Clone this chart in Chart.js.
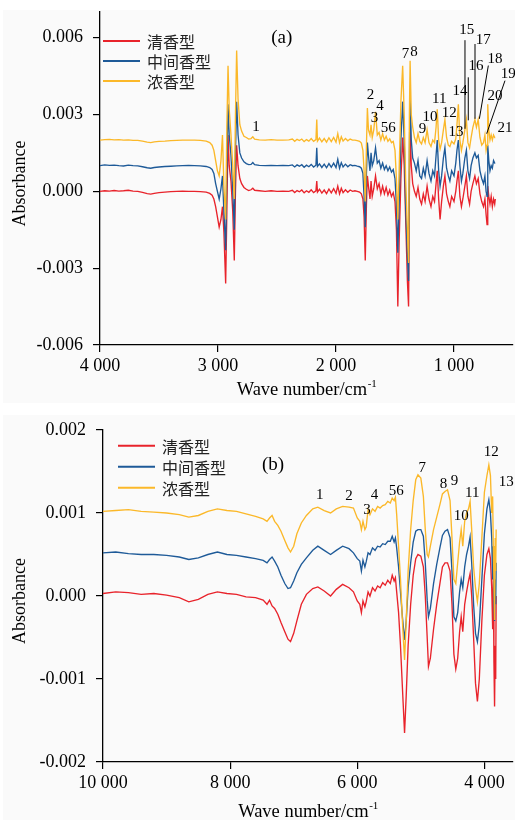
<!DOCTYPE html>
<html>
<head>
<meta charset="utf-8">
<script src="https://cdn.jsdelivr.net/npm/chart.js@4.4.0/dist/chart.umd.min.js"></script>
<style>
  html,body{margin:0;padding:0;background:#fff;}
  #wrap{position:relative;width:515px;height:820px;overflow:hidden;}
  canvas{position:absolute;left:0;}
  #cA{top:0;}
  #cB{top:403px;}
</style>
</head>
<body>
<div id="wrap">
<canvas id="cA" width="515" height="403"></canvas>
<canvas id="cB" width="515" height="417"></canvas>
</div>
<script>
// ---------------- Panel (a): mid-infrared ----------------
const seriesNames = ["清香型", "中间香型", "浓香型"];
const wnA = [4000,3960,3920,3880,3840,3800,3760,3720,3680,3640,
3600,3570,3540,3500,3450,3400,3350,3300,3250,3200,
3150,3100,3070,3050,3035,3020,3005,2990,2975,2962,
2950,2935,2925,2915,2905,2890,2875,2862,2852,2842,
2830,2815,2800,2780,2760,2740,2720,2705,2690,2650,
2600,2550,2500,2450,2400,2370,2350,2330,2310,2290,
2270,2250,2230,2210,2190,2170,2163,2157,2140,2120,
2100,2080,2060,2040,2020,2000,1985,1970,1955,1940,
1920,1900,1880,1860,1840,1820,1800,1785,1772,1762,
1752,1742,1734,1725,1712,1703,1693,1680,1665,1650,
1635,1620,1605,1590,1575,1560,1545,1530,1515,1500,
1488,1476,1465,1450,1435,1422,1410,1395,1385,1378,
1372,1362,1350,1335,1320,1305,1290,1275,1260,1245,
1228,1212,1195,1180,1165,1152,1142,1130,1118,1105,
1090,1077,1063,1048,1035,1020,1000,985,975,963,
950,937,925,908,895,882,868,855,840,823,
810,795,780,765,750,738,728,720,714,705,
695,685,675,665,655,650];
const redA = [0,0.00002,0.00001,0.00003,0.00001,0.00002,0.00004,0.00001,0,-0.00004,
-0.00009,-0.00011,-0.00008,-0.00005,-0.00003,-0.00001,0,0.00001,0,0,
-0.00001,-0.00003,-0.00008,-0.00015,-0.0003,-0.0006,-0.001,-0.0014,-0.0011,-0.0006,
-0.0016,-0.0036,-0.0008,0.0022,0.001,0.0004,-0.0008,-0.0027,0,0.0018,
0.001,0.0005,0.0003,0.00015,0.00008,0.00003,0.00006,0.00012,0.00004,0.00002,
0,0.00002,0,0.00001,0,0.00004,-0.00005,0.00003,-0.00002,0.00005,
-0.00006,0.00002,-0.00004,0.00006,-0.00005,0.00002,0.0004,-0.00003,0.00008,-0.00007,
0.00005,-0.00009,0.00009,-0.00006,0.0001,-0.00008,0.0002,-0.0001,0.00012,-0.00005,
0.00006,-0.00004,0.00005,0,0.00002,0,-0.00003,-0.0001,-0.0003,-0.001,
-0.0027,-0.0005,0.0006,0.0002,-0.0003,0.0004,-0.0002,0.0001,0.0006,0.0001,
0.0003,-0.0001,0.0002,-0.0001,0.00015,-0.00015,0.00005,-0.0002,-0.00005,-0.0004,
-0.0015,-0.0045,-0.002,0.0005,0.0021,0.001,-0.001,-0.0035,-0.0045,0,
0.0024,0.001,0.0003,0,-0.0002,0.00015,-0.0003,-0.0005,-0.0001,-0.0004,
0.0002,-0.0003,-0.0006,-0.0002,-0.0004,0.0003,0.0008,-0.0003,-0.0011,-0.0004,
0.0002,0.0006,-0.0001,-0.0004,-0.0006,-0.0002,-0.0004,0,0.0004,0.0008,
-0.0002,-0.0006,-0.0003,0.0002,0.0006,-0.0002,-0.0005,0,0.0003,0.0006,
0.0003,0.0005,-0.0001,-0.0004,-0.0006,-0.0003,-0.0009,-0.0013,0.0002,-0.0002,
-0.0005,-0.0002,-0.0006,-0.0003,-0.0005,-0.0003];
const blueA = [0.001,0.00103,0.00101,0.00102,0.001,0.00099,0.00102,0.001,0.00099,0.00096,
0.00092,0.0009,0.00093,0.00095,0.00097,0.00098,0.00099,0.001,0.00101,0.001,
0.00099,0.00097,0.00093,0.00085,0.0007,0.0003,0,-0.0003,0.0001,0.0006,
-0.0008,-0.0023,0.0008,0.0034,0.0022,0.0014,0,-0.0015,0.0015,0.0035,
0.0022,0.0015,0.0013,0.00115,0.00108,0.00104,0.00105,0.00112,0.00104,0.00101,
0.001,0.00101,0.001,0.00101,0.001,0.00103,0.00095,0.00103,0.00098,0.00104,
0.00094,0.00102,0.00096,0.00105,0.00095,0.00102,0.0017,0.00097,0.00107,0.00093,
0.00106,0.00092,0.00108,0.00094,0.0011,0.00093,0.00125,0.0009,0.00112,0.00095,
0.00106,0.00096,0.00104,0.001,0.00101,0.00098,0.00096,0.0009,0.0007,-0.0002,
-0.0014,0.0007,0.0019,0.0014,0.0008,0.0015,0.001,0.0012,0.0017,0.0011,
0.0012,0.0009,0.0011,0.00085,0.001,0.0008,0.00095,0.00075,0.00085,0.0005,
-0.0005,-0.0024,-0.0005,0.002,0.0035,0.002,-0.0005,-0.0025,-0.0035,0.0015,
0.0038,0.002,0.0013,0.0011,0.0008,0.0012,0.0006,0.0005,0.0009,0.0006,
0.0012,0.0007,0.0004,0.0008,0.0006,0.0014,0.002,0.0008,0.0002,0.0006,
0.0013,0.0017,0.0009,0.0006,0.0004,0.0008,0.0006,0.0011,0.0016,0.002,
0.001,0.0004,0.0007,0.0013,0.0016,0.0008,0.0005,0.001,0.0013,0.0015,
0.0013,0.0014,0.0008,0.0005,0.0003,0.0006,0,-0.0002,0.0018,0.0012,
0.0008,0.001,0.0009,0.0012,0.0011,0.0011];
const yellowA = [0.002,0.00202,0.00203,0.00201,0.00202,0.002,0.00201,0.00199,0.00199,0.00196,
0.00192,0.0019,0.00193,0.00195,0.00196,0.00198,0.00199,0.002,0.002,0.002,
0.00199,0.00196,0.0019,0.0018,0.0016,0.0012,0.0008,0.0006,0.0012,0.0022,
0.0002,-0.0011,0.0025,0.0049,0.0032,0.0022,0.001,-0.0003,0.003,0.0055,
0.0036,0.0026,0.00235,0.00215,0.0021,0.00204,0.00206,0.00213,0.00204,0.00201,
0.002,0.00202,0.002,0.002,0.00201,0.00204,0.00195,0.00203,0.00198,0.00204,
0.00194,0.00202,0.00196,0.00206,0.00195,0.00202,0.0028,0.00196,0.00208,0.00193,
0.00206,0.00192,0.00209,0.00194,0.0021,0.00192,0.00225,0.0019,0.00213,0.00196,
0.00206,0.00197,0.00204,0.002,0.002,0.00198,0.00195,0.00188,0.0016,0.0008,
-0.0004,0.0018,0.00325,0.0024,0.0022,0.0026,0.0021,0.0024,0.0031,0.0022,
0.0023,0.002,0.00225,0.002,0.00215,0.00195,0.00205,0.0019,0.00195,0.0016,
0.0005,-0.0011,0.0008,0.0035,0.0049,0.003,0.0005,-0.0015,-0.0028,0.003,
0.0051,0.003,0.0025,0.0021,0.0019,0.00225,0.00195,0.00185,0.0021,0.0019,
0.0024,0.0019,0.00175,0.002,0.0019,0.0025,0.0032,0.002,0.00165,0.0019,
0.0024,0.0028,0.0021,0.0018,0.00175,0.00195,0.00185,0.00205,0.0026,0.0034,
0.002,0.0016,0.0019,0.0024,0.0028,0.0019,0.0017,0.0021,0.0025,0.0028,
0.0025,0.0028,0.0021,0.0018,0.0019,0.0022,0.0016,0.0018,0.0034,0.0024,
0.002,0.0022,0.002,0.0022,0.0021,0.0021];
const xTicksA = [4000, 3000, 2000, 1000];
const xTickLabelsA = ["4 000", "3 000", "2 000", "1 000"];
const yTicksA = [-0.006, -0.003, 0, 0.003, 0.006];
const yTickLabelsA = ["-0.006", "-0.003", "0.000", "0.003", "0.006"];
const peakLabelsA = [["1",2678,0.0025],["2",1707,0.00377],["3",1673,0.00287],["4",1627,0.00331],
["56",1557,0.00248],["7",1410,0.00534],["8",1339,0.00543],["9",1266,0.00244],["10",1203,0.0029],
["11",1125,0.00361],["12",1040,0.00307],["13",983,0.00231],["14",949,0.00391],["15",893,0.0063],
["16",814,0.00487],["17",752,0.00591],["18",653,0.00517],["19",540,0.00459],["20",653,0.0037],
["21",568,0.00248]];
const leadersA = [[907,0.0059,907,0.00244],[879,0.00445,879,0.00277],[822,0.00575,822,0.00283],
[709,0.00491,785,0.00283],[568,0.00432,723,0.00225]];

// ---------------- Panel (b): near-infrared ----------------
const wnB = [10000,9800,9600,9400,9200,9000,8800,8650,8500,8350,
8200,8050,7900,7750,7600,7480,7420,7380,7340,7300,
7250,7200,7140,7090,7050,7000,6950,6880,6800,6700,
6620,6520,6420,6330,6230,6130,6060,6000,5960,5935,
5910,5880,5860,5830,5800,5760,5720,5680,5640,5600,
5560,5520,5480,5450,5420,5400,5380,5350,5320,5290,
5256,5230,5200,5160,5120,5080,5045,5000,4960,4930,
4900,4880,4850,4800,4750,4700,4660,4620,4580,4540,
4510,4480,4450,4420,4390,4365,4340,4310,4280,4250,
4225,4200,4170,4140,4110,4080,4040,4000,3960,3930,
3905,3885,3870,3860,3850,3840,3830,3822,3815];
const redB = [0.00003,0.00005,0.00004,0.00002,0.00003,0.00001,-0.00002,-0.00007,-0.00004,0.00002,
0.00005,0.00003,0.00002,-0.00001,-0.00002,-0.00005,-0.0001,-0.00005,-0.00012,-0.00015,
-0.00022,-0.00032,-0.00043,-0.00052,-0.00055,-0.00045,-0.0003,-0.0001,0.00002,0.00009,
0.00011,0.00006,0,0.00008,0.00014,0.0001,0.00005,-0.00006,-0.0001,-0.0002,
-0.00006,-0.00013,-0.00007,0.00005,0,0.0001,0.00006,0.00012,0.0001,0.00016,
0.00013,0.00019,0.00015,0.00025,0.00018,0.00022,0.00005,-0.0002,-0.0006,-0.0011,
-0.00165,-0.0012,-0.0006,-0.0001,0.00025,0.00045,0.0005,0.00048,0.00035,0,
-0.0005,-0.00085,-0.00075,-0.0004,-0.0001,0.00015,0.00035,0.0004,0.0004,0.0003,
-0.0001,-0.0007,-0.00088,-0.00075,-0.00043,-0.00025,-0.00043,-0.0001,0.00005,0.00018,
0.00027,0,-0.0005,-0.00105,-0.00127,-0.001,-0.0003,0.00025,0.0005,0.00057,
0.00045,0.0001,-0.0004,0.0003,-0.0008,-0.00133,-0.0006,-0.001,0];
const blueB = [0.00052,0.00053,0.00051,0.0005,0.0005,0.00049,0.00047,0.00044,0.00046,0.0005,
0.00053,0.0005,0.00049,0.00047,0.00045,0.00043,0.0004,0.00044,0.00047,0.00042,
0.00035,0.00025,0.00015,0.00009,0.0001,0.00018,0.00028,0.00038,0.00046,0.00055,
0.0006,0.00055,0.0005,0.00055,0.0006,0.00057,0.00052,0.00045,0.00042,0.0003,
0.00043,0.00035,0.00041,0.00052,0.0005,0.00058,0.00055,0.0006,0.00059,0.00063,
0.00062,0.00066,0.00066,0.00072,0.00065,0.0007,0.00058,0.00035,0.00005,-0.00025,
-0.00053,-0.0003,0.0001,0.0004,0.00065,0.00078,0.0008,0.0008,0.00072,0.0004,
-0.00005,-0.00025,-0.00015,0.00015,0.00038,0.00058,0.00073,0.00078,0.0008,0.0007,
0.0003,-0.00025,-0.0003,-0.0002,0.00005,0.0002,0.0001,0.00035,0.0005,0.0006,
0.00071,0.0004,-0.0001,-0.00045,-0.00055,-0.00035,0.0002,0.00075,0.00105,0.00116,
0.001,0.0007,0.0002,0.0006,-0.0001,-0.0003,0.0002,-0.0001,0.0004];
const yellowB = [0.00102,0.00103,0.00104,0.00102,0.00101,0.001,0.00098,0.00095,0.00097,0.00102,
0.00105,0.00103,0.00102,0.00099,0.00096,0.00093,0.0009,0.00094,0.00097,0.0009,
0.00085,0.00078,0.00067,0.00058,0.00053,0.0006,0.00075,0.00088,0.00097,0.00105,
0.00107,0.00103,0.001,0.00105,0.00108,0.00107,0.00106,0.00094,0.0009,0.0008,
0.0009,0.0008,0.00083,0.00104,0.00098,0.00105,0.00102,0.00108,0.00106,0.00109,
0.0011,0.00114,0.00112,0.00118,0.00115,0.00119,0.00098,0.0006,0.0002,-0.0003,
-0.00077,-0.0003,0.0003,0.0008,0.00115,0.0014,0.00146,0.00142,0.0012,0.0008,
0.0005,0.00047,0.0006,0.0008,0.00095,0.0011,0.00123,0.00126,0.00128,0.00115,
0.0007,0.0002,0.00015,0.0004,0.00065,0.0008,0.0006,0.0009,0.001,0.00105,
0.00114,0.0008,0.00035,0.0001,-0.00007,0.00015,0.0007,0.00125,0.00145,0.00158,
0.00145,0.001,0.0012,0.0006,0.0002,-0.00029,0.0007,0.0003,0.0008];
const xTicksB = [10000, 8000, 6000, 4000];
const xTickLabelsB = ["10 000", "8 000", "6 000", "4 000"];
const yTicksB = [-0.002, -0.001, 0, 0.001, 0.002];
const yTickLabelsB = ["-0.002", "-0.001", "0.000", "0.001", "0.002"];
const peakLabelsB = [["1",6590,0.00122],["2",6130,0.0012],["3",5847,0.00104],["4",5727,0.00122],
["56",5386,0.00127],["7",4978,0.00154],["8",4643,0.00135],["9",4470,0.00138],["10",4365,0.00096],
["11",4192,0.00124],["12",3893,0.00173],["13",3657,0.00137]];

// ---------------- styling ----------------
const COLORS = ['#e8232b', '#1e5a98', '#fbb829'];
const SERIF = '"Liberation Serif", "Times New Roman", serif';
const CJK = '"Noto Sans CJK SC", sans-serif';

const decor = {
  id: 'decor',
  beforeDraw(chart, args, o) {
    const c = chart.ctx;
    c.save();
    c.fillStyle = '#fafafa';
    c.fillRect(o.bg[0], o.bg[1], o.bg[2], o.bg[3]);
    c.restore();
  },
  afterDraw(chart, args, o) {
    const c = chart.ctx, xs = chart.scales.x, ys = chart.scales.y, ca = chart.chartArea;
    c.save();
    c.strokeStyle = '#000'; c.lineWidth = 1;
    (o.leaders || []).forEach(l => {
      c.beginPath();
      c.moveTo(xs.getPixelForValue(l[0]), ys.getPixelForValue(l[1]));
      c.lineTo(xs.getPixelForValue(l[2]), ys.getPixelForValue(l[3]));
      c.stroke();
    });
    c.fillStyle = '#000'; c.textAlign = 'center'; c.textBaseline = 'middle';
    c.font = '15px ' + SERIF;
    o.labels.forEach(l => c.fillText(l[0], xs.getPixelForValue(l[1]), ys.getPixelForValue(l[2])));
    c.font = '19px ' + SERIF;
    c.fillText(o.tag[0], xs.getPixelForValue(o.tag[1]), ys.getPixelForValue(o.tag[2]));
    seriesNames.forEach((n, i) => {
      const y = o.legend.y + i * o.legend.dy;
      c.strokeStyle = COLORS[i]; c.lineWidth = 2;
      c.beginPath(); c.moveTo(o.legend.x, y); c.lineTo(o.legend.x + 37, y); c.stroke();
      c.fillStyle = '#222'; c.textAlign = 'left'; c.textBaseline = 'middle';
      c.font = '16px ' + CJK;
      c.fillText(n, o.legend.x + 44, y + 1);
    });
    c.fillStyle = '#000';
    c.save();
    c.translate(20, (ca.top + ca.bottom) / 2 + 5);
    c.rotate(-Math.PI / 2);
    c.textAlign = 'center'; c.textBaseline = 'middle';
    c.font = '18px ' + SERIF;
    c.fillText('Absorbance', 0, 0);
    c.restore();
    c.textAlign = 'left'; c.textBaseline = 'alphabetic';
    c.font = '18.5px ' + SERIF;
    const main = 'Wave number/cm', sup = '-1';
    const w1 = c.measureText(main).width;
    c.font = '11px ' + SERIF;
    const w2 = c.measureText(sup).width;
    const x0 = (ca.left + ca.right) / 2 - (w1 + w2) / 2;
    c.font = '18.5px ' + SERIF;
    c.fillText(main, x0, o.titleY);
    c.font = '11px ' + SERIF;
    c.fillText(sup, x0 + w1 + 0.5, o.titleY - 8);
    c.restore();
  }
};

function zeroPad(s) { s.paddingTop = 0; s.paddingBottom = 0; s.paddingLeft = 0; s.paddingRight = 0; }

function makeChart(id, wn, reds, blues, yellows, cfg) {
  const mk = (arr) => wn.map((w, i) => ({ x: w, y: arr[i] }));
  const sets = [reds, blues, yellows].map((arr, i) => ({
    label: seriesNames[i], data: mk(arr), borderColor: COLORS[i], backgroundColor: COLORS[i],
    borderWidth: 1.35, pointRadius: 0, tension: 0, fill: false, order: 2 - i
  }));
  return new Chart(document.getElementById(id), {
    type: 'line',
    data: { datasets: sets },
    options: {
      responsive: false, animation: false, events: [],
      layout: { padding: { top: cfg.padTop, right: 2, left: 0, bottom: 0 } },
      plugins: { legend: { display: false }, tooltip: { enabled: false }, decor: cfg.decor },
      scales: {
        x: {
          type: 'linear', reverse: true, min: cfg.xmin, max: cfg.xmax,
          afterBuildTicks: s => { s.ticks = cfg.xTicks.map(v => ({ value: v })); },
          afterFit: s => { s.height = 58; zeroPad(s); },
          ticks: { callback: (v, i) => cfg.xLabels[i], font: { family: SERIF, size: 18 }, color: '#000', padding: 3, maxRotation: 0, autoSkip: false },
          grid: { drawOnChartArea: false, drawTicks: true, tickLength: 7, color: '#000', lineWidth: 1.2 },
          border: { color: '#000', width: 1.3 }
        },
        y: {
          type: 'linear', min: cfg.ymin, max: cfg.ymax,
          afterBuildTicks: s => { s.ticks = cfg.yTicks.map(v => ({ value: v })); },
          afterFit: s => { s.width = cfg.yWidth; zeroPad(s); },
          ticks: { callback: (v, i) => cfg.yLabels[i], font: { family: SERIF, size: 18 }, color: '#000', padding: 10, autoSkip: false },
          grid: { drawOnChartArea: false, drawTicks: true, tickLength: 7, color: '#000', lineWidth: 1.2 },
          border: { color: '#000', width: 1.3 }
        }
      }
    },
    plugins: [decor]
  });
}

makeChart('cA', wnA, redA, blueA, yellowA, {
  padTop: 12, xmin: 500, xmax: 4000, ymin: -0.006, ymax: 0.007, yWidth: 100,
  xTicks: xTicksA, xLabels: xTickLabelsA, yTicks: yTicksA, yLabels: yTickLabelsA,
  decor: { bg: [3, 10, 512, 393], labels: peakLabelsA, leaders: leadersA, tag: ['(a)', 2460, 0.006],
           legend: { x: 103, y: 41, dy: 20 }, titleY: 395 }
});
makeChart('cB', wnB, redB, blueB, yellowB, {
  padTop: 27, xmin: 3550, xmax: 10000, ymin: -0.002, ymax: 0.002, yWidth: 103,
  xTicks: xTicksB, xLabels: xTickLabelsB, yTicks: yTicksB, yLabels: yTickLabelsB,
  decor: { bg: [3, 12, 512, 405], labels: peakLabelsB, leaders: [], tag: ['(b)', 7325, 0.00158],
           legend: { x: 118, y: 42.7, dy: 21 }, titleY: 413.5 }
});
</script>
</body>
</html>
